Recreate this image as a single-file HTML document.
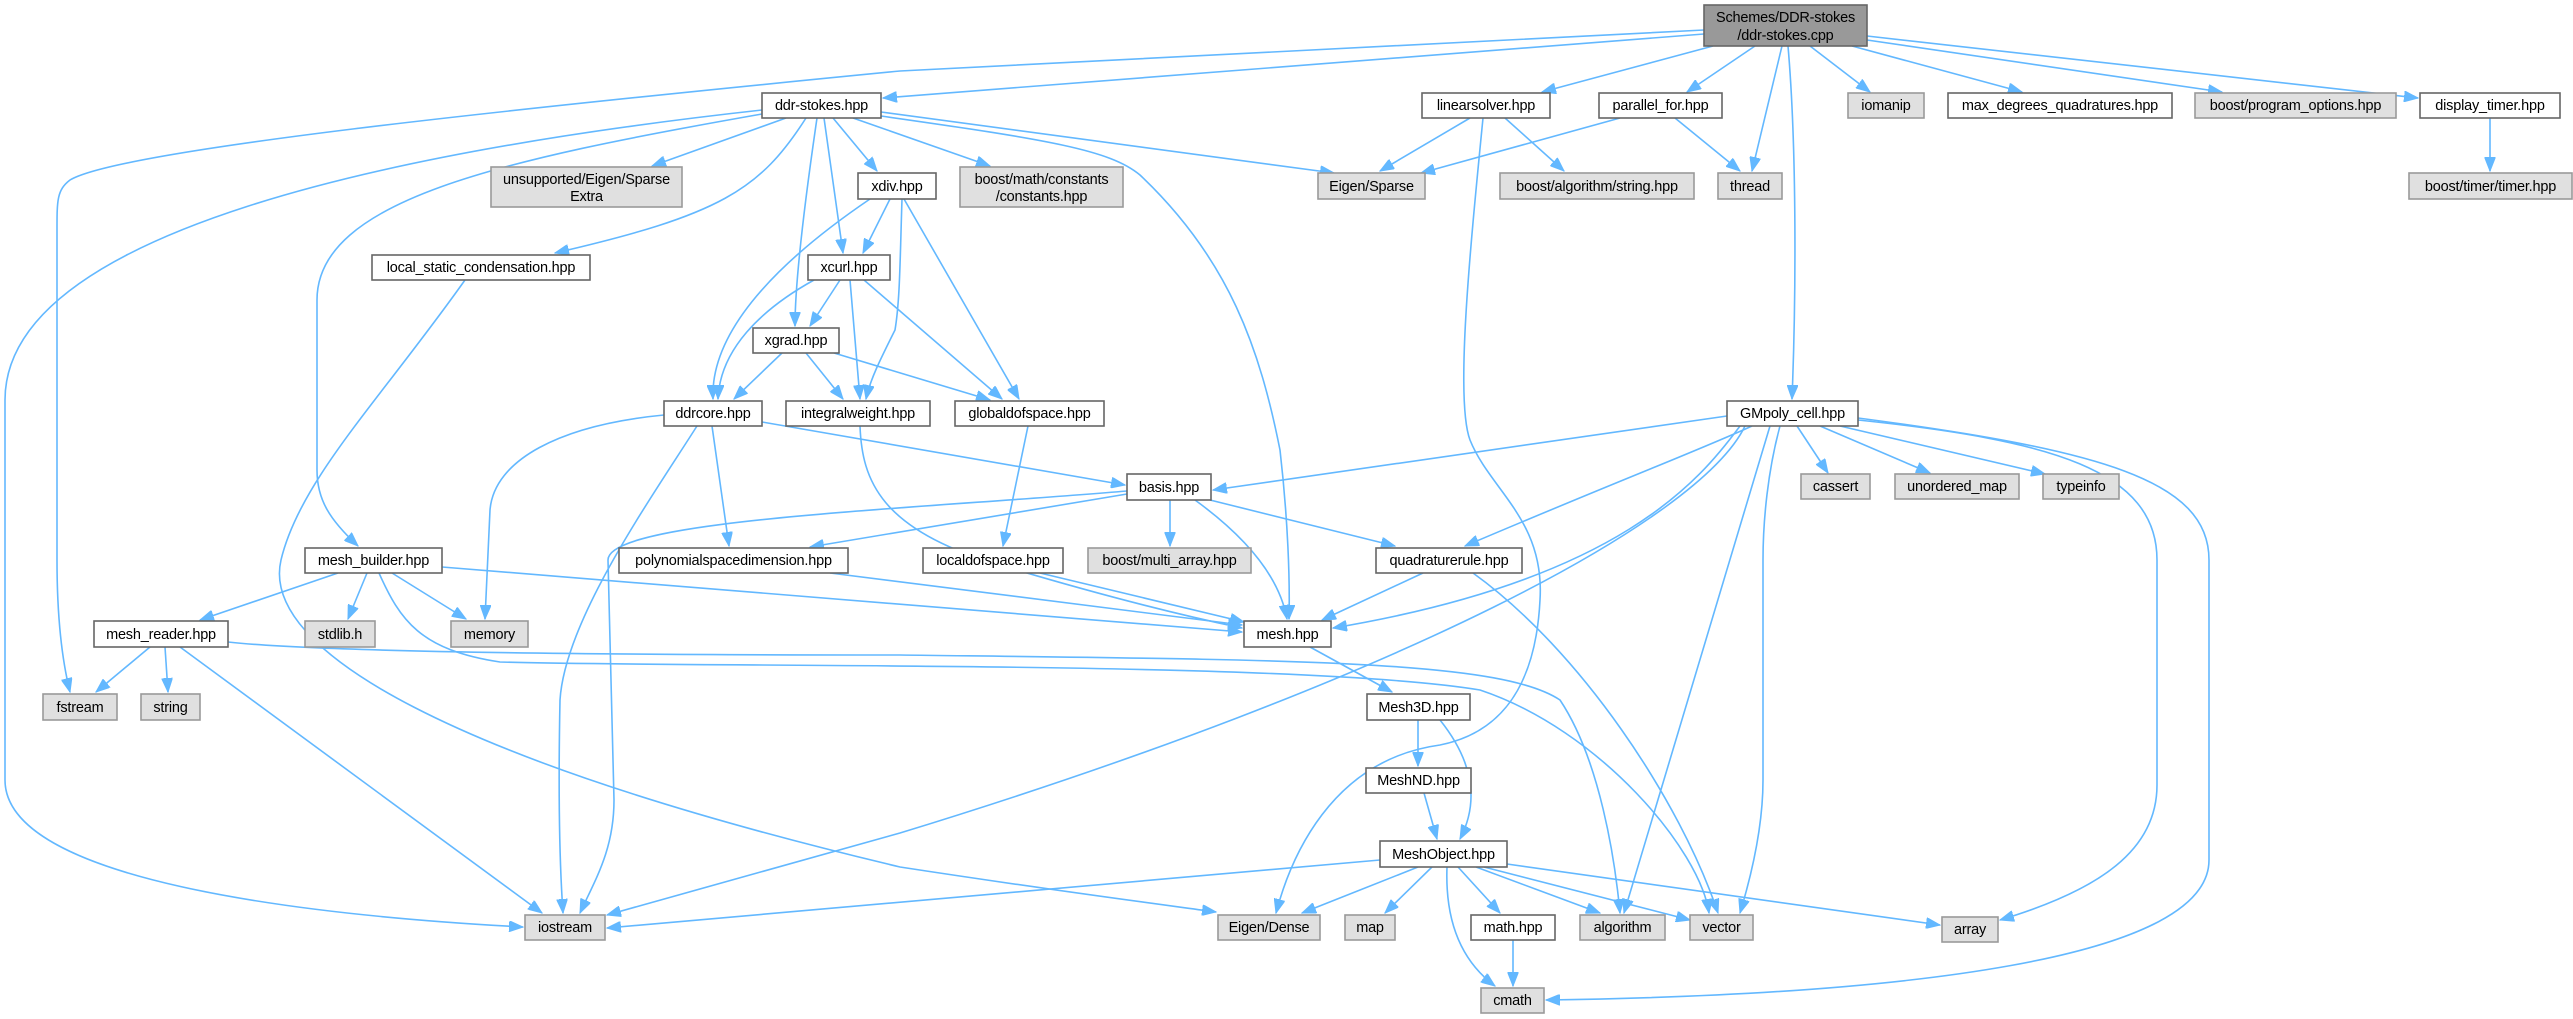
<!DOCTYPE html>
<html><head><meta charset="utf-8"><style>
html,body{margin:0;padding:0;background:#fff;}
svg{display:block;}
text{font-family:"Liberation Sans","DejaVu Sans",sans-serif;font-size:14.5px;fill:#000;text-anchor:middle;letter-spacing:-0.2px;}
.e{fill:none;stroke:#63b8ff;stroke-width:1.6;marker-end:url(#a);}
.n{fill:#fff;stroke:#666;stroke-width:1.6;}
.g{fill:#e0e0e0;stroke:#999;stroke-width:1.6;}
.r{fill:#999;stroke:#666;stroke-width:1.6;}
</style></head><body>
<svg width="2573" height="1019" viewBox="0 0 2573 1019" xmlns="http://www.w3.org/2000/svg">
<defs><marker id="a" markerUnits="userSpaceOnUse" markerWidth="15" markerHeight="11" refX="14" refY="5.5" orient="auto"><path d="M0,0 L14,5.5 L0,11 z" fill="#63b8ff" stroke="#63b8ff"/></marker></defs>

<path class="e" d="M1704,30 L900,71 C500,110 120,150 70,180 C57,190 57,200 57,230 L57,560 C57,620 62,660 70,692"/>
<path class="e" d="M1704,34 L883,98"/>
<path class="e" d="M1713,46 L1542,92"/>
<path class="e" d="M1755,46 L1687,92"/>
<path class="e" d="M1782,46 L1752,171"/>
<path class="e" d="M1788,46 C1797,150 1796,300 1792,399"/>
<path class="e" d="M1810,46 L1870,92"/>
<path class="e" d="M1852,46 L2022,92"/>
<path class="e" d="M1867,40 L2222,92"/>
<path class="e" d="M1867,36 L2418,98"/>
<path class="e" d="M2490,118 L2490,171"/>
<path class="e" d="M1470,118 L1380,171"/>
<path class="e" d="M1505,118 L1564,171"/>
<path class="e" d="M1483,118 C1470,250 1455,400 1470,440 C1490,490 1545,520 1540,600 C1535,700 1490,735 1440,745 C1330,760 1290,860 1276,913"/>
<path class="e" d="M1620,118 L1421,173"/>
<path class="e" d="M1675,118 L1740,171"/>
<path class="e" d="M762,110 C400,150 5,230 5,400 L5,780 C5,880 300,915 523,927"/>
<path class="e" d="M762,114 C500,160 317,200 317,300 L317,470 C317,500 330,520 358,546"/>
<path class="e" d="M786,118 L652,166"/>
<path class="e" d="M806,118 C760,190 720,215 555,253"/>
<path class="e" d="M833,118 L877,171"/>
<path class="e" d="M824,118 L843,253"/>
<path class="e" d="M817,118 C805,200 795,280 795,326"/>
<path class="e" d="M853,118 L990,166"/>
<path class="e" d="M881,112 L1334,173"/>
<path class="e" d="M881,116 C1050,140 1110,150 1140,175 C1230,260 1260,350 1280,450 C1288,520 1290,580 1289,619"/>
<path class="e" d="M465,280 C380,400 300,480 281,560 C260,650 450,760 900,867 C1050,890 1150,903 1216,912"/>
<path class="e" d="M890,199 L863,253"/>
<path class="e" d="M870,199 C780,260 710,330 713,399"/>
<path class="e" d="M902,199 C900,260 900,300 895,330 C880,360 870,380 866,399"/>
<path class="e" d="M904,199 L1019,399"/>
<path class="e" d="M840,280 L810,326"/>
<path class="e" d="M814,280 C760,310 720,350 718,399"/>
<path class="e" d="M850,280 L860,399"/>
<path class="e" d="M864,280 L1002,399"/>
<path class="e" d="M782,353 L734,399"/>
<path class="e" d="M806,353 L843,399"/>
<path class="e" d="M834,353 L990,400"/>
<path class="e" d="M664,415 C560,425 494,460 490,510 L485,619"/>
<path class="e" d="M697,426 C650,500 565,620 560,700 C558,800 560,870 563,913"/>
<path class="e" d="M712,426 L729,546"/>
<path class="e" d="M762,422 L1125,485"/>
<path class="e" d="M860,426 C862,480 880,530 1000,565 C1100,595 1180,615 1242,628"/>
<path class="e" d="M1028,426 L1003,546"/>
<path class="e" d="M1127,494 L810,547"/>
<path class="e" d="M1127,491 C900,510 608,520 608,560 L614,800 C614,850 595,880 580,913"/>
<path class="e" d="M1170,500 L1170,546"/>
<path class="e" d="M1195,500 C1250,540 1280,580 1287,619"/>
<path class="e" d="M1210,500 L1395,546"/>
<path class="e" d="M1727,416 L1213,490"/>
<path class="e" d="M1752,426 C1700,450 1620,480 1465,546"/>
<path class="e" d="M1740,426 C1700,480 1620,580 1333,628"/>
<path class="e" d="M1745,426 C1700,520 1400,680 900,833 L607,915"/>
<path class="e" d="M1770,426 L1624,913"/>
<path class="e" d="M1780,426 C1768,470 1763,520 1763,560 L1763,780 C1763,830 1750,880 1740,913"/>
<path class="e" d="M1797,426 L1828,473"/>
<path class="e" d="M1820,426 L1930,473"/>
<path class="e" d="M1840,426 L2045,474"/>
<path class="e" d="M1858,420 C2050,440 2157,470 2157,560 L2157,785 C2157,850 2100,890 2000,920"/>
<path class="e" d="M1858,418 C2100,450 2209,480 2209,560 L2209,860 C2209,960 1900,995 1546,1000"/>
<path class="e" d="M338,573 L200,620"/>
<path class="e" d="M367,573 L348,619"/>
<path class="e" d="M392,573 L466,619"/>
<path class="e" d="M442,567 L1242,632"/>
<path class="e" d="M379,573 C400,620 420,650 500,662 C700,668 1300,660 1480,690 C1600,730 1700,850 1709,913"/>
<path class="e" d="M228,642 C300,650 500,655 900,655 C1300,660 1500,660 1560,700 C1600,760 1615,860 1620,913"/>
<path class="e" d="M150,647 L96,692"/>
<path class="e" d="M165,647 L168,692"/>
<path class="e" d="M180,647 L542,913"/>
<path class="e" d="M830,573 L1242,625"/>
<path class="e" d="M1040,573 L1244,622"/>
<path class="e" d="M1423,573 L1322,620"/>
<path class="e" d="M1473,573 C1580,650 1680,800 1718,913"/>
<path class="e" d="M1310,647 L1392,692"/>
<path class="e" d="M1418,720 L1418,766"/>
<path class="e" d="M1440,720 C1480,770 1475,810 1460,839"/>
<path class="e" d="M1424,793 L1437,839"/>
<path class="e" d="M1380,860 L607,928"/>
<path class="e" d="M1418,867 L1302,913"/>
<path class="e" d="M1432,867 L1385,913"/>
<path class="e" d="M1447,867 C1445,920 1460,960 1495,986"/>
<path class="e" d="M1458,867 L1500,913"/>
<path class="e" d="M1476,867 L1600,913"/>
<path class="e" d="M1484,867 L1690,920"/>
<path class="e" d="M1507,864 L1940,925"/>
<path class="e" d="M1513,940 L1513,986"/>

<rect class="r" x="1704" y="5" width="163" height="41"/><text x="1785.5" y="22">Schemes/DDR-stokes</text><text x="1785.5" y="40">/ddr-stokes.cpp</text>
<rect class="n" x="762" y="93" width="119" height="25"/><text x="821.5" y="110">ddr-stokes.hpp</text>
<rect class="n" x="1422" y="93" width="128" height="25"/><text x="1486" y="110">linearsolver.hpp</text>
<rect class="n" x="1599" y="93" width="123" height="25"/><text x="1660.5" y="110">parallel_for.hpp</text>
<rect class="g" x="1848" y="93" width="76" height="25"/><text x="1886" y="110">iomanip</text>
<rect class="n" x="1948" y="93" width="224" height="25"/><text x="2060" y="110">max_degrees_quadratures.hpp</text>
<rect class="g" x="2195" y="93" width="201" height="25"/><text x="2295.5" y="110">boost/program_options.hpp</text>
<rect class="n" x="2420" y="93" width="140" height="25"/><text x="2490" y="110">display_timer.hpp</text>
<rect class="g" x="491" y="167" width="191" height="40"/><text x="586.5" y="184">unsupported/Eigen/Sparse</text><text x="586.5" y="201">Extra</text>
<rect class="n" x="858" y="173" width="78" height="26"/><text x="897" y="191">xdiv.hpp</text>
<rect class="g" x="960" y="167" width="163" height="40"/><text x="1041.5" y="184">boost/math/constants</text><text x="1041.5" y="201">/constants.hpp</text>
<rect class="g" x="1318" y="173" width="107" height="26"/><text x="1371.5" y="191">Eigen/Sparse</text>
<rect class="g" x="1500" y="173" width="194" height="26"/><text x="1597" y="191">boost/algorithm/string.hpp</text>
<rect class="g" x="1718" y="173" width="64" height="26"/><text x="1750" y="191">thread</text>
<rect class="g" x="2409" y="173" width="163" height="26"/><text x="2490.5" y="191">boost/timer/timer.hpp</text>
<rect class="n" x="372" y="255" width="218" height="25"/><text x="481" y="272">local_static_condensation.hpp</text>
<rect class="n" x="808" y="255" width="82" height="25"/><text x="849" y="272">xcurl.hpp</text>
<rect class="n" x="753" y="328" width="86" height="25"/><text x="796" y="345">xgrad.hpp</text>
<rect class="n" x="664" y="401" width="98" height="25"/><text x="713" y="418">ddrcore.hpp</text>
<rect class="n" x="786" y="401" width="144" height="25"/><text x="858" y="418">integralweight.hpp</text>
<rect class="n" x="955" y="401" width="149" height="25"/><text x="1029.5" y="418">globaldofspace.hpp</text>
<rect class="n" x="1727" y="401" width="131" height="25"/><text x="1792.5" y="418">GMpoly_cell.hpp</text>
<rect class="n" x="1127" y="474" width="84" height="26"/><text x="1169" y="492">basis.hpp</text>
<rect class="g" x="1801" y="474" width="69" height="25"/><text x="1835.5" y="491">cassert</text>
<rect class="g" x="1895" y="474" width="124" height="25"/><text x="1957" y="491">unordered_map</text>
<rect class="g" x="2043" y="474" width="76" height="25"/><text x="2081" y="491">typeinfo</text>
<rect class="n" x="305" y="548" width="137" height="25"/><text x="373.5" y="565">mesh_builder.hpp</text>
<rect class="n" x="619" y="548" width="229" height="25"/><text x="733.5" y="565">polynomialspacedimension.hpp</text>
<rect class="n" x="923" y="548" width="140" height="25"/><text x="993" y="565">localdofspace.hpp</text>
<rect class="g" x="1088" y="548" width="163" height="25"/><text x="1169.5" y="565">boost/multi_array.hpp</text>
<rect class="n" x="1376" y="548" width="146" height="25"/><text x="1449" y="565">quadraturerule.hpp</text>
<rect class="n" x="94" y="621" width="134" height="26"/><text x="161" y="639">mesh_reader.hpp</text>
<rect class="g" x="305" y="621" width="70" height="26"/><text x="340" y="639">stdlib.h</text>
<rect class="g" x="451" y="621" width="77" height="26"/><text x="489.5" y="639">memory</text>
<rect class="n" x="1244" y="621" width="87" height="26"/><text x="1287.5" y="639">mesh.hpp</text>
<rect class="g" x="43" y="694" width="74" height="26"/><text x="80" y="712">fstream</text>
<rect class="g" x="141" y="694" width="59" height="26"/><text x="170.5" y="712">string</text>
<rect class="n" x="1367" y="694" width="103" height="26"/><text x="1418.5" y="712">Mesh3D.hpp</text>
<rect class="n" x="1366" y="768" width="105" height="25"/><text x="1418.5" y="785">MeshND.hpp</text>
<rect class="n" x="1380" y="841" width="127" height="26"/><text x="1443.5" y="859">MeshObject.hpp</text>
<rect class="g" x="525" y="915" width="80" height="25"/><text x="565" y="932">iostream</text>
<rect class="g" x="1218" y="915" width="102" height="25"/><text x="1269" y="932">Eigen/Dense</text>
<rect class="g" x="1345" y="915" width="50" height="25"/><text x="1370" y="932">map</text>
<rect class="n" x="1471" y="915" width="84" height="25"/><text x="1513" y="932">math.hpp</text>
<rect class="g" x="1580" y="915" width="85" height="25"/><text x="1622.5" y="932">algorithm</text>
<rect class="g" x="1690" y="915" width="63" height="25"/><text x="1721.5" y="932">vector</text>
<rect class="g" x="1942" y="917" width="56" height="25"/><text x="1970" y="934">array</text>
<rect class="g" x="1481" y="988" width="63" height="25"/><text x="1512.5" y="1005">cmath</text>
</svg>
</body></html>
